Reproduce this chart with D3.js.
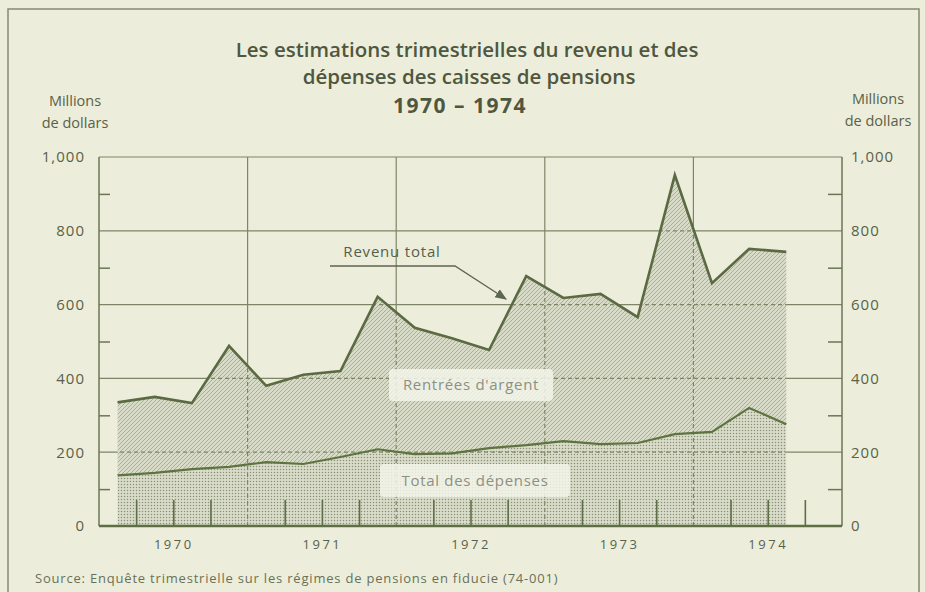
<!DOCTYPE html>
<html>
<head>
<meta charset="utf-8">
<script src="https://cdn.jsdelivr.net/npm/d3@7"></script>
<style>
  body { margin: 0; background: #eceedb; }
  svg { display: block; font-family: "Open Sans", sans-serif; }
</style>
</head>
<body>
<svg id="chart" width="925" height="592"></svg>
<script>
// quarterly estimates, millions of dollars
var quarters = ["1970-1", "1970-2", "1970-3", "1970-4",
                "1971-1", "1971-2", "1971-3", "1971-4",
                "1972-1", "1972-2", "1972-3", "1972-4",
                "1973-1", "1973-2", "1973-3", "1973-4",
                "1974-1", "1974-2", "1974-3"];
var revenu   = [335, 350, 333, 488, 380, 410, 420, 621, 537, 509, 477, 677, 618, 629, 566, 951, 658, 751, 743];
var depenses = [137, 144, 154, 160, 173, 168, 187, 208, 195, 197, 211, 219, 230, 222, 225, 249, 255, 320, 276];
var years = [1970, 1971, 1972, 1973, 1974];
var yTicks = [0, 200, 400, 600, 800, 1000];
var yMinor = [100, 300, 500, 700, 900];

var svg = d3.select("#chart");

var x = d3.scaleLinear().domain([1970, 1975]).range([99, 842]),
    y = d3.scaleLinear().domain([0, 1000]).range([526, 157]);

function qx(q) {
  var p = q.split("-");
  return x(+p[0] + (+p[1] - 0.5) / 4);
}

var data = quarters.map(function(q, i) {
  return {q: q, rev: revenu[i], dep: depenses[i]};
});

var defs = svg.append("defs");
var hatch = defs.append("pattern")
    .attr("id", "hatch")
    .attr("patternUnits", "userSpaceOnUse")
    .attr("width", 4).attr("height", 4);
hatch.append("rect").attr("width", 4).attr("height", 4).attr("fill", "#d8dbc8");
hatch.append("path")
    .attr("d", "M-1,1l2,-2M0,4l4,-4M3,5l2,-2")
    .attr("stroke", "#9da38e").attr("stroke-width", 0.8);

var dots = defs.append("pattern")
    .attr("id", "dots")
    .attr("patternUnits", "userSpaceOnUse")
    .attr("width", 3).attr("height", 3);
dots.append("rect").attr("width", 3).attr("height", 3).attr("fill", "#d9dcc9");
dots.append("circle").attr("cx", 1.5).attr("cy", 1.5).attr("r", 0.75).attr("fill", "#8a9079");

defs.append("clipPath").attr("id", "under")
  .append("path").datum(data)
    .attr("d", d3.area()
        .x(function(d) { return qx(d.q); })
        .y0(y(0))
        .y1(function(d) { return y(d.rev); }));

defs.append("marker")
    .attr("id", "arrow")
    .attr("viewBox", "0 0 10 10")
    .attr("refX", 9).attr("refY", 5)
    .attr("markerWidth", 9).attr("markerHeight", 9)
    .attr("orient", "auto")
  .append("path")
    .attr("d", "M0,1L10,5L0,9z")
    .attr("fill", "#5d6650");

// frame
svg.append("rect")
    .attr("x", 8).attr("y", 9)
    .attr("width", 911).attr("height", 600)
    .attr("fill", "none")
    .attr("stroke", "#858b72")
    .attr("stroke-width", 1.5);

// titles
var title = svg.append("g")
    .attr("text-anchor", "middle")
    .attr("fill", "#4f5740")
    .attr("font-weight", 600);
title.append("text").attr("x", 467).attr("y", 57).attr("font-size", 20.5)
    .text("Les estimations trimestrielles du revenu et des");
title.append("text").attr("x", 469).attr("y", 84).attr("font-size", 20.5)
    .text("dépenses des caisses de pensions");
title.append("text").attr("x", 460).attr("y", 113).attr("font-size", 21).attr("font-weight", 700)
    .attr("letter-spacing", 1.5)
    .text("1970 – 1974");

[[75, 106, 128], [878, 104, 126]].forEach(function(p) {
  var g = svg.append("g").attr("text-anchor", "middle").attr("fill", "#5a6148").attr("font-size", 14.5);
  g.append("text").attr("x", p[0]).attr("y", p[1]).text("Millions");
  g.append("text").attr("x", p[0]).attr("y", p[2]).text("de dollars");
});

// grid
function grid(g, dash) {
  g.selectAll("line.h")
      .data(yTicks.slice(1))
    .enter().append("line")
      .attr("x1", x(1970)).attr("x2", x(1975))
      .attr("y1", y).attr("y2", y);
  g.selectAll("line.v")
      .data(years.slice(1))
    .enter().append("line")
      .attr("x1", x).attr("x2", x)
      .attr("y1", y(0)).attr("y2", y(1000));
  g.selectAll("line")
      .attr("stroke", "#7d8566")
      .attr("stroke-width", 1.2)
      .attr("stroke-dasharray", dash);
}

svg.append("g").call(grid, null);

// areas
var revArea = d3.area()
    .x(function(d) { return qx(d.q); })
    .y0(function(d) { return y(d.dep); })
    .y1(function(d) { return y(d.rev); });

var depArea = d3.area()
    .x(function(d) { return qx(d.q); })
    .y0(y(0))
    .y1(function(d) { return y(d.dep); });

svg.append("path").datum(data)
    .attr("d", revArea)
    .attr("fill", "url(#hatch)");

svg.append("path").datum(data)
    .attr("d", depArea)
    .attr("fill", "url(#dots)");

// grid seen through the shading
svg.append("g").attr("clip-path", "url(#under)").call(grid, "4,3");

// lines
svg.append("path").datum(data)
    .attr("d", d3.line().x(function(d) { return qx(d.q); }).y(function(d) { return y(d.rev); }))
    .attr("fill", "none")
    .attr("stroke", "#5b6a43")
    .attr("stroke-width", 2.6)
    .attr("stroke-linejoin", "miter");

svg.append("path").datum(data)
    .attr("d", d3.line().x(function(d) { return qx(d.q); }).y(function(d) { return y(d.dep); }))
    .attr("fill", "none")
    .attr("stroke", "#5e7440")
    .attr("stroke-width", 2.2);

// axes
function clean(g) { g.select(".domain").remove(); }

svg.append("g")
    .attr("transform", "translate(" + x(1970) + ",0)")
    .call(d3.axisRight(y).tickValues(yMinor).tickSize(11).tickFormat(""))
    .call(clean)
    .selectAll("line").attr("stroke", "#6c7656").attr("stroke-width", 1.5);

svg.append("g")
    .attr("transform", "translate(" + x(1975) + ",0)")
    .call(d3.axisLeft(y).tickValues(yMinor).tickSize(14).tickFormat(""))
    .call(clean)
    .selectAll("line").attr("stroke", "#6c7656").attr("stroke-width", 1.5);

svg.append("g")
    .attr("transform", "translate(0," + y(0) + ")")
    .call(d3.axisTop(x)
        .tickValues(d3.range(1970, 1975, 0.25).filter(function(d) { return d % 1 !== 0; }))
        .tickSize(26).tickFormat(""))
    .call(clean)
    .selectAll("line").attr("stroke", "#5e6e45").attr("stroke-width", 1.6);

svg.append("g")
    .attr("transform", "translate(" + x(1970) + ",0)")
    .call(d3.axisLeft(y).tickValues(yTicks).tickFormat(d3.format(",")).tickSize(0).tickPadding(14))
    .call(clean)
    .selectAll("text")
    .attr("font-family", "Open Sans, sans-serif")
    .attr("font-size", 15)
    .attr("letter-spacing", 1)
    .attr("fill", "#5a6148");

svg.append("g")
    .attr("transform", "translate(" + x(1975) + ",0)")
    .call(d3.axisRight(y).tickValues(yTicks).tickFormat(d3.format(",")).tickSize(0).tickPadding(9))
    .call(clean)
    .selectAll("text")
    .attr("font-family", "Open Sans, sans-serif")
    .attr("font-size", 15)
    .attr("letter-spacing", 1)
    .attr("fill", "#5a6148");

svg.append("g")
    .attr("transform", "translate(0," + y(0) + ")")
    .call(d3.axisBottom(x)
        .tickValues(years.map(function(d) { return d + 0.5; }))
        .tickFormat(function(d) { return Math.floor(d); })
        .tickSize(0).tickPadding(14))
    .call(clean)
    .selectAll("text")
    .attr("font-family", "Open Sans, sans-serif")
    .attr("font-size", 13)
    .attr("letter-spacing", 2.5)
    .attr("fill", "#5a6148");

// axis lines
svg.append("line")
    .attr("x1", x(1970)).attr("x2", x(1970)).attr("y1", y(0)).attr("y2", y(1000))
    .attr("stroke", "#6c7656").attr("stroke-width", 1.5);
svg.append("line")
    .attr("x1", x(1975)).attr("x2", x(1975)).attr("y1", y(0)).attr("y2", y(1000))
    .attr("stroke", "#6c7656").attr("stroke-width", 1.5);
svg.append("line")
    .attr("x1", x(1970)).attr("x2", x(1975)).attr("y1", y(0)).attr("y2", y(0))
    .attr("stroke", "#5e6e45").attr("stroke-width", 2.6);

// labels
svg.append("text")
    .attr("x", 392).attr("y", 257)
    .attr("text-anchor", "middle")
    .attr("font-size", 15).attr("letter-spacing", 0.8).attr("fill", "#55604a")
    .text("Revenu total");
svg.append("path")
    .attr("d", "M330,266H455L506,299")
    .attr("fill", "none")
    .attr("stroke", "#5d6650").attr("stroke-width", 1.3)
    .attr("marker-end", "url(#arrow)");

[{t: "Rentrées d'argent", x: 389, y: 369, w: 164, h: 32},
 {t: "Total des dépenses", x: 380, y: 464, w: 190, h: 33}].forEach(function(b) {
  svg.append("rect")
      .attr("x", b.x).attr("y", b.y).attr("width", b.w).attr("height", b.h)
      .attr("rx", 4)
      .attr("fill", "#f3f4ea").attr("opacity", 0.85);
  svg.append("text")
      .attr("x", b.x + b.w / 2).attr("y", b.y + b.h / 2 + 5)
      .attr("text-anchor", "middle")
      .attr("font-size", 15).attr("letter-spacing", 0.7)
      .attr("fill", "#8c9082")
      .text(b.t);
});

svg.append("text")
    .attr("x", 35).attr("y", 583)
    .attr("font-size", 13).attr("letter-spacing", 0.8).attr("fill", "#6a7058")
    .text("Source: Enquête trimestrielle sur les régimes de pensions en fiducie (74-001)");
</script>
</body>
</html>
